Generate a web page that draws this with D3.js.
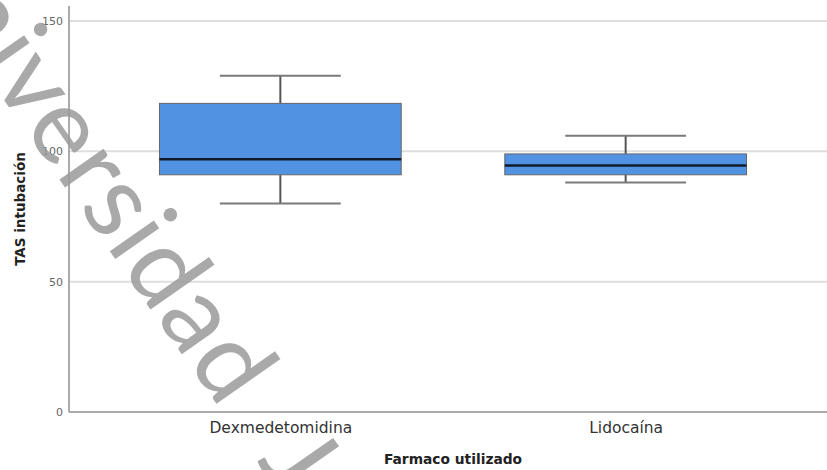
<!DOCTYPE html>
<html>
<head>
<meta charset="utf-8">
<script src="https://cdn.jsdelivr.net/npm/d3@7"></script>
<style>
  body { margin: 0; background: #fff; }
  svg { display: block; }
</style>
</head>
<body>
<svg></svg>
<script>
// data
var categories = ['Dexmedetomidina', 'Lidocaína'];
var whiskerLow = [80, 88];
var q1 = [91, 91];
var median = [97, 94.6];
var q3 = [118.4, 99];
var whiskerHigh = [129, 106];
var yTicks = [0, 50, 100, 150];

var svgWidth = 827;
var svgHeight = 470;

var margin = { top: 6, right: 0, bottom: 58, left: 69 };

var svg = d3.select('svg')
	.attr('width', svgWidth)
	.attr('height', svgHeight);

var rows = categories.map(function(c, i) {
	return { name: c, lo: whiskerLow[i], q1: q1[i], med: median[i], q3: q3[i], hi: whiskerHigh[i] };
});

/*
scales
*/
var x = d3.scalePoint()
	.domain(categories)
	.range([margin.left, 837])
	.padding(0.612);

var y = d3.scaleLinear()
	.domain([0, 150])
	.range([412, 21]);

var boxWidth = x.step() * 0.70;
var capWidth = boxWidth / 2;

// gridlines
svg.append('g')
	.selectAll('line')
	.data(yTicks.filter(function(d) { return d > 0; }))
	.enter().append('line')
	.attr('x1', margin.left)
	.attr('x2', svgWidth)
	.attr('y1', function(d) { return y(d); })
	.attr('y2', function(d) { return y(d); })
	.attr('stroke', '#dedede')
	.attr('stroke-width', 2);

// y axis
var yAxis = g => g
	.attr('transform', 'translate(' + margin.left + ',0)')
	.call(d3.axisLeft(y).tickValues(yTicks).tickSize(0).tickPadding(6))
	.call(g => g.select('.domain').remove())
	.call(g => g.selectAll('text')
		.attr('font-family', 'DejaVu Sans, sans-serif')
		.attr('font-size', 11)
		.attr('fill', '#666'));

svg.append('g').call(yAxis);

// x axis
var xAxis = g => g
	.attr('transform', 'translate(0,412)')
	.call(d3.axisBottom(x).tickSize(0).tickPadding(10))
	.call(g => g.select('.domain').remove())
	.call(g => g.selectAll('text')
		.attr('font-family', 'DejaVu Sans, sans-serif')
		.attr('font-size', 15.5)
		.attr('fill', '#333'));

svg.append('g').call(xAxis);

// frame lines
svg.append('line')
	.attr('x1', margin.left).attr('x2', margin.left)
	.attr('y1', margin.top).attr('y2', 412)
	.attr('stroke', '#ababab').attr('stroke-width', 2);
svg.append('line')
	.attr('x1', margin.left).attr('x2', svgWidth)
	.attr('y1', 412).attr('y2', 412)
	.attr('stroke', '#ababab').attr('stroke-width', 2);

// axis titles
svg.append('text')
	.attr('x', (margin.left + 837) / 2)
	.attr('y', 464)
	.attr('text-anchor', 'middle')
	.attr('font-family', 'DejaVu Sans, sans-serif')
	.attr('font-weight', 'bold')
	.attr('font-size', 13.8)
	.attr('fill', '#222')
	.text('Farmaco utilizado');

svg.append('text')
	.attr('transform', 'translate(25,209) rotate(-90)')
	.attr('text-anchor', 'middle')
	.attr('font-family', 'DejaVu Sans, sans-serif')
	.attr('font-weight', 'bold')
	.attr('font-size', 13.5)
	.attr('fill', '#222')
	.text('TAS intubación');

/*
boxes
*/
var box = svg.append('g')
	.selectAll('g')
	.data(rows)
	.enter().append('g');

// whisker stems
box.append('line')
	.attr('x1', function(d) { return x(d.name); })
	.attr('x2', function(d) { return x(d.name); })
	.attr('y1', function(d) { return y(d.hi); })
	.attr('y2', function(d) { return y(d.q3); })
	.attr('stroke', '#555').attr('stroke-width', 2);
box.append('line')
	.attr('x1', function(d) { return x(d.name); })
	.attr('x2', function(d) { return x(d.name); })
	.attr('y1', function(d) { return y(d.q1); })
	.attr('y2', function(d) { return y(d.lo); })
	.attr('stroke', '#555').attr('stroke-width', 2);

// caps
box.selectAll('.cap')
	.data(function(d) { return [{ name: d.name, v: d.hi }, { name: d.name, v: d.lo }]; })
	.enter().append('line')
	.attr('class', 'cap')
	.attr('x1', function(d) { return x(d.name) - capWidth / 2; })
	.attr('x2', function(d) { return x(d.name) + capWidth / 2; })
	.attr('y1', function(d) { return y(d.v); })
	.attr('y2', function(d) { return y(d.v); })
	.attr('stroke', '#7a7a7a').attr('stroke-width', 2);

box.append('rect')
	.attr('x', function(d) { return x(d.name) - boxWidth / 2; })
	.attr('width', boxWidth)
	.attr('y', function(d) { return y(d.q3); })
	.attr('height', function(d) { return y(d.q1) - y(d.q3); })
	.attr('fill', '#5192e2')
	.attr('stroke', '#666')
	.attr('stroke-width', 1);

box.append('line')
	.attr('x1', function(d) { return x(d.name) - boxWidth / 2; })
	.attr('x2', function(d) { return x(d.name) + boxWidth / 2; })
	.attr('y1', function(d) { return y(d.med); })
	.attr('y2', function(d) { return y(d.med); })
	.attr('stroke', '#111b2b').attr('stroke-width', 2.5);

// watermark on top
svg.append('text')
	.attr('transform', 'translate(-104,-54) rotate(55)')
	.attr('font-family', 'Lato, sans-serif')
	.attr('font-size', 106)
	.attr('letter-spacing', 1.5)
	.attr('word-spacing', 35)
	.attr('fill', '#9a9a9a')
	.attr('fill-opacity', 0.85)
	.text('Universidad Ju');
</script>
</body>
</html>
